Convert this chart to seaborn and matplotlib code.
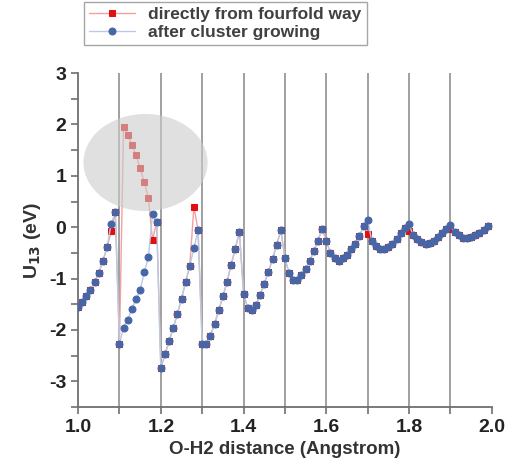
import numpy as np
import pandas as pd
import seaborn as sns
import matplotlib.pyplot as plt
from matplotlib.patches import Ellipse
from matplotlib.ticker import MultipleLocator, FuncFormatter

# O-H2 distance grid (Angstrom)
distance = [round(1.0 + 0.01 * i, 2) for i in range(100)]

# U13 after cluster growing (eV)
u13_cluster = [
    -1.56, -1.46, -1.35, -1.23, -1.07, -0.89, -0.66, -0.39, 0.07, 0.29,
    -2.27, -1.96, -1.80, -1.60, -1.40, -1.22, -0.88, -0.58, 0.25, 0.10,
    -2.74, -2.48, -2.22, -1.96, -1.69, -1.39, -1.07, -0.75, -0.41, -0.06,
    -2.27, -2.27, -2.11, -1.88, -1.62, -1.35, -1.07, -0.73, -0.42, -0.09,
    -1.30, -1.57, -1.62, -1.52, -1.33, -1.10, -0.87, -0.62, -0.35, -0.06,
    -0.60, -0.90, -1.03, -1.03, -0.94, -0.81, -0.65, -0.47, -0.26, -0.03,
    -0.27, -0.50, -0.61, -0.66, -0.61, -0.54, -0.43, -0.32, -0.18, 0.02,
    0.14, -0.27, -0.37, -0.42, -0.42, -0.38, -0.33, -0.24, -0.12, -0.01,
    0.06, -0.16, -0.23, -0.29, -0.32, -0.30, -0.26, -0.19, -0.12, -0.03,
    0.04, -0.10, -0.16, -0.21, -0.21, -0.19, -0.16, -0.11, -0.05, 0.02,
]

# U13 directly from fourfold way: differs from the cluster values at a few points
u13_direct = list(u13_cluster)
direct_changes = {
    1.08: -0.08,
    1.11: 1.96, 1.12: 1.79, 1.13: 1.60, 1.14: 1.40, 1.15: 1.15,
    1.16: 0.88, 1.17: 0.57, 1.18: -0.25,
    1.28: 0.40,
    1.70: -0.13, 1.80: -0.08, 1.90: -0.04,
}
for d, v in direct_changes.items():
    u13_direct[distance.index(d)] = v

df = pd.DataFrame({
    'distance': distance * 2,
    'U13': u13_direct + u13_cluster,
    'series': ['directly from fourfold way'] * 100 + ['after cluster growing'] * 100,
})

sns.set_style('white')
plt.rcParams['font.family'] = ['Liberation Sans', 'DejaVu Sans']

fig = plt.figure(figsize=(5.07, 4.72), dpi=100)
ax = fig.add_axes([0.154, 0.138, 0.816, 0.707])

# vertical guide lines
for xv in np.arange(1.1, 1.95, 0.1):
    ax.axvline(xv, color='#a0a0a0', lw=1.4, zorder=1)

red = df[df['series'] == 'directly from fourfold way']
blue = df[df['series'] == 'after cluster growing']
sns.lineplot(data=red, x='distance', y='U13', ax=ax, color='#f2a0a0', lw=1.0,
             marker='s', markersize=3.9, markerfacecolor='#e01010',
             markeredgecolor='#e01010', label='directly from fourfold way', zorder=3)
sns.lineplot(data=blue, x='distance', y='U13', ax=ax, color='#b8cbe4', lw=1.0,
             marker='o', markersize=5.0, markerfacecolor='#4766a6',
             markeredgecolor='#4766a6', label='after cluster growing', zorder=4)

# highlight ellipse
ax.add_patch(Ellipse((1.163, 1.26), 0.30, 1.89, facecolor='#cccccc',
                     edgecolor='none', alpha=0.6, zorder=5))

ax.set_xlim(1.0, 2.0)
ax.set_ylim(-3.5, 3.0)
ax.xaxis.set_major_locator(MultipleLocator(0.2))
ax.xaxis.set_minor_locator(MultipleLocator(0.1))
ax.yaxis.set_major_locator(MultipleLocator(1))
ax.yaxis.set_minor_locator(MultipleLocator(0.5))
ax.xaxis.set_major_formatter(FuncFormatter(lambda v, p: f'{v:.1f}'))
ax.yaxis.set_major_formatter(FuncFormatter(lambda v, p: f'{v:.0f}'))
ax.tick_params(axis='both', which='both', direction='out', color='#707070',
               width=1.2, bottom=True, left=True)
ax.tick_params(which='major', length=5, labelsize=14)
ax.tick_params(which='minor', length=5)
for lab in ax.get_xticklabels() + ax.get_yticklabels():
    lab.set_fontweight('bold')
    lab.set_color('#222222')

for s in ['top', 'right']:
    ax.spines[s].set_visible(False)
for s in ['left', 'bottom']:
    ax.spines[s].set_color('#707070')
    ax.spines[s].set_linewidth(1.3)

ax.set_xlabel('O-H2 distance (Angstrom)', fontsize=13.5, fontweight='bold', color='#333333')
ax.set_ylabel('U$_{\\mathbf{13}}$ (eV)', fontsize=14, fontweight='bold', color='#333333')

leg = ax.legend(loc='upper left', bbox_to_anchor=(0.166, 0.996),
                bbox_transform=fig.transFigure, frameon=True, fancybox=False,
                fontsize=12.5, handlelength=2.6, borderpad=0.3,
                labelspacing=0.15, borderaxespad=0)
leg.get_frame().set_edgecolor('#909090')
leg.get_frame().set_linewidth(1.0)
for t in leg.get_texts():
    t.set_fontweight('bold')
    t.set_color('#404040')

fig.savefig('out.png', dpi=100)
